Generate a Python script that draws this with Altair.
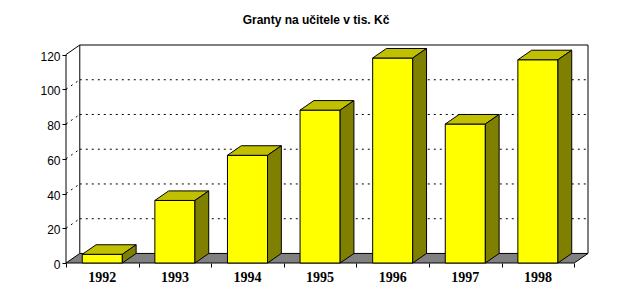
import altair as alt
import pandas as pd

# ---- data ----
YEARS = ["1992", "1993", "1994", "1995", "1996", "1997", "1998"]
VALUES = [5, 36, 62, 88, 118, 80, 117]
Y_TICKS = [0, 20, 40, 60, 80, 100, 120]
GRID_VALUES = [20, 40, 60, 80, 100]
TITLE = "Granty na učitele v tis. Kč"

# ---- 3D style constants (in scale units) ----
N = len(YEARS)
YMAX = 120
DX = 0.19      # depth offset along x (category units)
DY = 5.5       # depth offset along y (value units)
HALF = 0.276   # half bar width (category units)

FRONT = "#FFFF00"
TOP = "#C0C000"
SIDE = "#808000"
FLOOR = "#808080"
base_font = "Liberation Sans"

xs = alt.Scale(domain=[0, N + DX], nice=False, zero=False)
ys = alt.Scale(domain=[0, YMAX + DY], nice=False, zero=False)

X_AXIS = alt.Axis(
    values=list(range(N + 1)), labels=False, domain=False, grid=False,
    ticks=True, tickSize=4, tickColor="black", tickWidth=1, title=None)
Y_AXIS = alt.Axis(
    values=Y_TICKS, domain=False, grid=False, tickSize=4, tickColor="black",
    tickWidth=1, labelFont=base_font, labelFontSize=12, labelColor="black",
    labelPadding=2, labelOffset=1.5, title=None)


def X(field):
    return alt.X(field, scale=xs, axis=X_AXIS)


def Y(field):
    return alt.Y(field, scale=ys, axis=Y_AXIS)


bars = pd.DataFrame({
    "year": YEARS,
    "v": VALUES,
    "x0": [i + 0.5 - HALF for i in range(N)],
    "x1": [i + 0.5 + HALF for i in range(N)],
    "xc": [i + 0.5 for i in range(N)],
})

top_rows, side_rows = [], []
for r in bars.itertuples():
    top_rows.append({"year": r.year, "y": r.v, "xa": r.x0, "xb": r.x1})
    top_rows.append({"year": r.year, "y": r.v + DY, "xa": r.x0 + DX, "xb": r.x1 + DX})
    side_rows.append({"year": r.year, "x": r.x1, "ya": 0, "yb": r.v})
    side_rows.append({"year": r.year, "x": r.x1 + DX, "ya": DY, "yb": r.v + DY})
tops = pd.DataFrame(top_rows)
sides = pd.DataFrame(side_rows)

floor = pd.DataFrame([
    {"y": 0, "xa": 0, "xb": N},
    {"y": DY, "xa": DX, "xb": N + DX},
])

edges = pd.DataFrame([
    {"x": 0, "y": 0, "x2": 0, "y2": YMAX},
    {"x": 0, "y": YMAX, "x2": DX, "y2": YMAX + DY},
    {"x": DX, "y": DY, "x2": DX, "y2": YMAX + DY},
    {"x": DX, "y": YMAX + DY, "x2": N + DX, "y2": YMAX + DY},
    {"x": N + DX, "y": DY, "x2": N + DX, "y2": YMAX + DY},
])

grid_rows = []
for g in GRID_VALUES:
    grid_rows.append({"x": DX, "y": g + DY, "x2": N + DX, "y2": g + DY})
    grid_rows.append({"x": 0, "y": g, "x2": DX, "y2": g + DY})
grid = pd.DataFrame(grid_rows)

grid_layer = alt.Chart(grid).mark_rule(
    color="black", strokeWidth=1, strokeDash=[2, 4]
).encode(x=X("x:Q"), x2="x2:Q", y=Y("y:Q"), y2="y2:Q")

edge_layer = alt.Chart(edges).mark_rule(color="black", strokeWidth=1).encode(
    x=X("x:Q"), x2="x2:Q", y=Y("y:Q"), y2="y2:Q")

floor_layer = alt.Chart(floor).mark_area(
    orient="horizontal", color=FLOOR, stroke="black", strokeWidth=1, opacity=1
).encode(y=Y("y:Q"), x=X("xa:Q"), x2="xb:Q")

front_layer = alt.Chart(bars).mark_rect(
    color=FRONT, stroke="black", strokeWidth=1
).encode(x=X("x0:Q"), x2="x1:Q", y=Y("v:Q"), y2=alt.datum(0))

top_layer = alt.Chart(tops).mark_area(
    orient="horizontal", color=TOP, stroke="black", strokeWidth=1, opacity=1
).encode(y=Y("y:Q"), x=X("xa:Q"), x2="xb:Q", detail="year:N")

side_layer = alt.Chart(sides).mark_area(
    orient="vertical", color=SIDE, stroke="black", strokeWidth=1, opacity=1
).encode(x=X("x:Q"), y=Y("ya:Q"), y2="yb:Q", detail="year:N")

label_layer = alt.Chart(bars).mark_text(
    font="Liberation Serif", fontSize=14, fontWeight="bold", color="black",
    baseline="middle", align="center"
).encode(x=X("xc:Q"), y=alt.value(233), text="year:N")

chart = alt.layer(
    grid_layer, edge_layer, floor_layer, front_layer, top_layer, side_layer, label_layer
).properties(
    width=522, height=218,
    padding={"left": 66, "top": 45, "right": 40, "bottom": 42},
    autosize="none",
    background="white",
    title=alt.TitleParams(
        TITLE, font=base_font, fontSize=12, fontWeight="bold", color="black",
        anchor="middle", frame="group", dx=-11, offset=18,
    ),
).configure_view(stroke=None)

chart.save("out.html", embed_options={"renderer": "svg", "actions": False})
